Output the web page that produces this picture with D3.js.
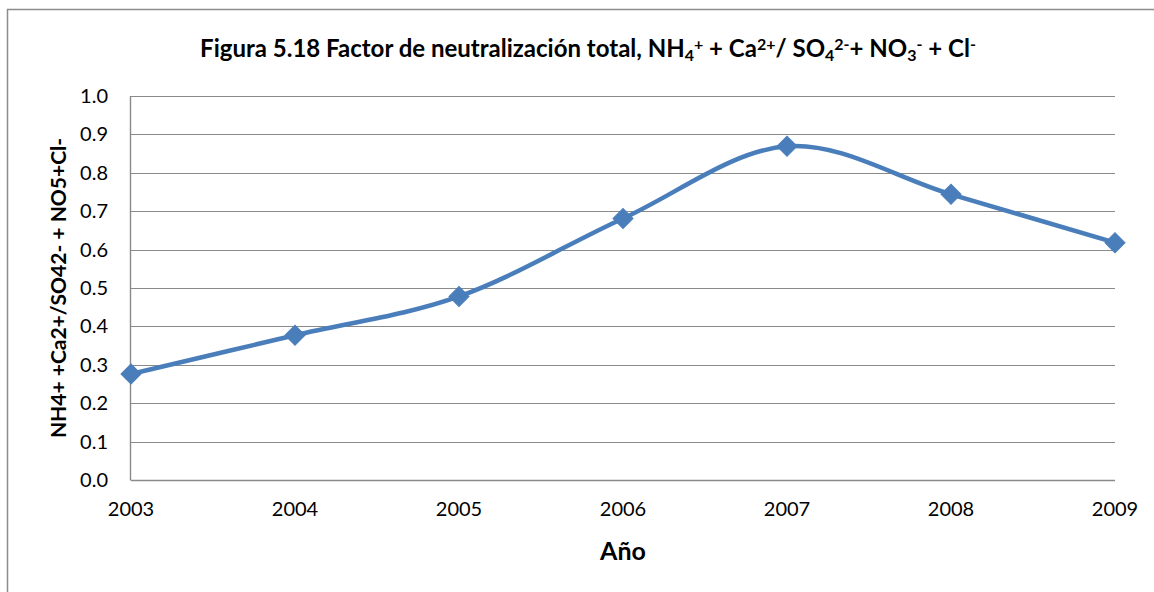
<!DOCTYPE html>
<html>
<head>
<meta charset="utf-8">
<script src="https://cdn.jsdelivr.net/npm/d3@7"></script>
<style>
  html, body { margin: 0; padding: 0; background: #fff; }
  svg { display: block; }
  text { font-family: Lato, "Open Sans", sans-serif; fill: #000; }
</style>
</head>
<body>
<svg id="chart" width="1154" height="592"></svg>
<script>
// Yearly total neutralization factor
const years = ["2003", "2004", "2005", "2006", "2007", "2008", "2009"];
const factor = [0.276, 0.377, 0.478, 0.681, 0.869, 0.744, 0.618];
const yTicks = [0.0, 0.1, 0.2, 0.3, 0.4, 0.5, 0.6, 0.7, 0.8, 0.9, 1.0];

const svg = d3.select("#chart");
const W = 1154, H = 592;
const plot = { left: 131, right: 1115, top: 96, bottom: 480 };

// outer chart frame (only left and top edges are inside the page)
svg.append("path")
  .attr("d", `M7.5,${H} V9.5 H${W}`)
  .attr("fill", "none")
  .attr("stroke", "#8c8c8c")
  .attr("stroke-width", 1.5);

const x = d3.scalePoint().domain(years).range([plot.left, plot.right]).padding(0);
const y = d3.scaleLinear().domain([0, 1]).range([plot.bottom, plot.top]);

// horizontal gridlines
svg.append("g")
  .selectAll("line")
  .data(yTicks.filter(d => d > 0))
  .join("line")
  .attr("x1", plot.left).attr("x2", plot.right)
  .attr("y1", d => Math.round(y(d)) + 0.5).attr("y2", d => Math.round(y(d)) + 0.5)
  .attr("stroke", "#8a8a8a").attr("stroke-width", 1.2);

// axes lines
svg.append("line")
  .attr("x1", plot.left - 0.5).attr("x2", plot.left - 0.5)
  .attr("y1", plot.top).attr("y2", plot.bottom + 0.5)
  .attr("stroke", "#8a8a8a").attr("stroke-width", 1.4);
svg.append("line")
  .attr("x1", plot.left).attr("x2", plot.right)
  .attr("y1", plot.bottom + 0.5).attr("y2", plot.bottom + 0.5)
  .attr("stroke", "#8a8a8a").attr("stroke-width", 1.4);

// y tick labels
svg.append("g")
  .selectAll("text")
  .data(yTicks)
  .join("text")
  .attr("x", 108)
  .attr("y", d => y(d))
  .attr("dy", "0.35em")
  .attr("text-anchor", "end")
  .style("font-size", "20px")
  .text(d => d.toFixed(1));

// x tick labels
svg.append("g")
  .selectAll("text")
  .data(years)
  .join("text")
  .attr("x", d => x(d))
  .attr("y", 509)
  .attr("dy", "0.35em")
  .attr("text-anchor", "middle")
  .style("font-size", "20px")
  .text(d => d);

// axis titles
svg.append("text")
  .attr("x", 623).attr("y", 551)
  .attr("dy", "0.35em")
  .attr("text-anchor", "middle")
  .style("font-size", "25px").style("font-weight", "bold")
  .text("Año");

svg.append("text")
  .attr("transform", "translate(59,288) rotate(-90)")
  .attr("dy", "0.35em")
  .attr("text-anchor", "middle")
  .style("font-size", "21px").style("font-weight", "bold")
  .text("NH4+ +Ca2+/SO42- + NO5+Cl-");

// chart title with sub/superscripts
const titleParts = [
  ["Figura 5.18 Factor de neutralización total, NH", 0],
  ["4", -1], ["+", 1],
  [" + Ca", 0], ["2+", 1],
  ["/ SO", 0], ["4", -1], ["2-", 1],
  ["+ NO", 0], ["3", -1], ["-", 1],
  [" + Cl", 0], ["-", 1]
];
const title = svg.append("text")
  .attr("x", 588).attr("y", 57)
  .attr("text-anchor", "middle")
  .style("font-size", "24px").style("font-weight", "bold");
titleParts.forEach(([t, s]) => {
  const ts = title.append("tspan").text(t);
  if (s !== 0) {
    ts.style("font-size", "16px")
      .attr("baseline-shift", s > 0 ? "45%" : "-25%");
  }
});

// smoothed series line
const line = d3.line()
  .x((d, i) => x(years[i]))
  .y(d => y(d))
  .curve(d3.curveCardinal.tension(0));

svg.append("path")
  .datum(factor)
  .attr("d", line)
  .attr("fill", "none")
  .attr("stroke", "#4a7ebb")
  .attr("stroke-width", 4.5)
  .attr("stroke-linejoin", "round");

// diamond markers
svg.append("g")
  .selectAll("path")
  .data(factor)
  .join("path")
  .attr("transform", (d, i) => `translate(${x(years[i])},${y(d)}) rotate(45)`)
  .attr("d", d3.symbol().type(d3.symbolSquare).size(200))
  .attr("fill", "#4a7ebb")
  .attr("stroke", "#4a7ebb")
  .attr("stroke-width", 1);
</script>
</body>
</html>
